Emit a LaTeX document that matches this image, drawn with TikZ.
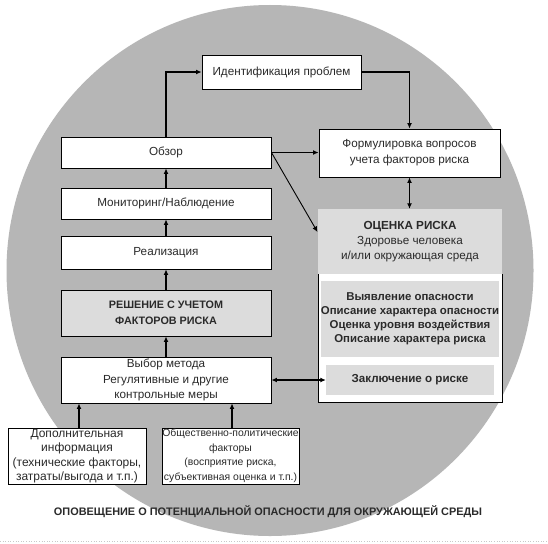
\documentclass[tikz,border=0pt]{standalone}
\usepackage{fontspec}
\setmainfont{Liberation Sans}
\usetikzlibrary{arrows.meta}
\definecolor{circ}{HTML}{B6B6B6}
\definecolor{lgray}{HTML}{DCDCDC}
\definecolor{txt}{HTML}{2A2A2A}
\begin{document}
\begin{tikzpicture}[x=1pt,y=-1pt,
  box/.style={draw=black,line width=0.9pt,fill=white,inner sep=0pt,align=center,text=txt,font=\fontsize{11.7}{15.5}\selectfont},
  gbox/.style={box,fill=lgray,font=\fontsize{10.8}{16}\selectfont\bfseries},
  conn/.style={line width=1.5pt,-{Latex[length=5.5pt,width=5pt]}},
  dconn/.style={line width=1.5pt,{Latex[length=5.5pt,width=5pt]}-{Latex[length=5.5pt,width=5pt]}},
  thin/.style={line width=0.9pt,-{Latex[length=5.5pt,width=5pt]}}]
\useasboundingbox (0,0) rectangle (548,543);
\fill[white] (0,0) rectangle (548,543);
\fill[circ] (270,270.5) ellipse [x radius=263.5, y radius=265.5];
\draw[lgray!80!gray, dotted, line width=0.6pt] (0,541.5) -- (548,541.5);

% left column
\node[box, minimum width=159pt, minimum height=34pt] (ident) at (281.5,72) {Идентификация проблем};
\node[box, minimum width=210pt, minimum height=31pt] (obzor) at (166,152.5) {Обзор};
\node[box, minimum width=181pt, minimum height=48pt, font=\fontsize{11.7}{16}\selectfont] (form) at (409.5,153) {Формулировка вопросов\\учета факторов риска};
\node[box, minimum width=210pt, minimum height=31pt] (monit) at (166,203.5) {Мониторинг/Наблюдение};
\node[box, minimum width=210pt, minimum height=33pt] (real) at (166,252.5) {Реализация};
\node[gbox, minimum width=210pt, minimum height=46pt] (resh) at (166,313) {РЕШЕНИЕ С УЧЕТОМ\\ФАКТОРОВ РИСКА};
\node[box, minimum width=210pt, minimum height=46pt] (vybor) at (166,380) {Выбор метода\\Регулятивные и другие\\контрольные меры};
\node[box, minimum width=138pt, minimum height=56pt, font=\fontsize{12}{14.5}\selectfont] (dop) at (77,456) {Дополнительная\\информация\\(технические факторы,\\затраты/выгода и т.п.)};
\node[box, minimum width=137pt, minimum height=56pt, font=\fontsize{10.4}{14.5}\selectfont] (obsh) at (230.5,456) {Общественно-политические\\факторы\\(восприятие риска,\\субъективная оценка и т.п.)};

% risk assessment
\node[fill=lgray, inner sep=0pt, minimum width=184pt, minimum height=65pt, align=center, text=txt, font=\fontsize{11.7}{15}\selectfont] (ocen) at (410,241.5) {\textbf{ОЦЕНКА РИСКА}\\Здоровье человека\\и/или окружающая среда};
\fill[white] (318,274) rectangle (502,402);
\draw[line width=0.9pt] (318,274) -- (318,402) -- (502,402) -- (502,274);
\node[fill=lgray, inner sep=0pt, minimum width=168pt, minimum height=76pt, align=center, text=txt, font=\fontsize{11.4}{14}\selectfont\bfseries] (steps) at (410,319) {Выявление опасности\\Описание характера опасности\\Оценка уровня воздействия\\Описание характера риска};
\node[fill=lgray, inner sep=0pt, minimum width=168pt, minimum height=30pt, align=center, text=txt, font=\fontsize{11.6}{14}\selectfont\bfseries] (zakl) at (410,380) {Заключение о риске};

\node[text=txt, font=\fontsize{10.9}{12}\selectfont\bfseries] (alert) at (268,512) {ОПОВЕЩЕНИЕ О ПОТЕНЦИАЛЬНОЙ ОПАСНОСТИ ДЛЯ ОКРУЖАЮЩЕЙ СРЕДЫ};

% connectors
\coordinate (diagend) at (317.5,232);
\draw[conn] (obzor.north) |- (ident.west);
\draw[conn] (ident.east) -| (form.north);
\draw[conn] (obzor.east) -- (form.west |- obzor.east);
\draw[thin] (obzor.east) -- (diagend);
\draw[dconn] (form.south) -- (form.south |- ocen.north);
\draw[conn] (monit) -- (obzor);
\draw[conn] (real) -- (monit);
\draw[conn] (resh) -- (real);
\draw[conn] (vybor) -- (resh);
\draw[conn] ([xshift=2pt]dop.north) -- ([xshift=2pt]dop.north |- vybor.south);
\draw[conn] ([xshift=1.5pt]obsh.north) -- ([xshift=1.5pt]obsh.north |- vybor.south);
\draw[dconn] (vybor.east) -- (zakl.west);
\end{tikzpicture}
\end{document}
